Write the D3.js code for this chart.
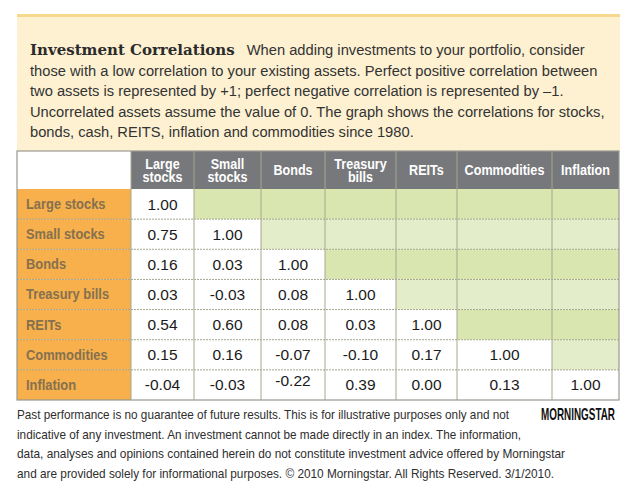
<!DOCTYPE html>
<html>
<head>
<meta charset="utf-8">
<script src="https://cdn.jsdelivr.net/npm/d3@7"></script>
<style>
  body { margin: 0; background: #fff; }
  svg { display: block; }
</style>
</head>
<body>
<div id="chart"></div>
<script>
// Investment correlations table (Morningstar, 2010)

const assets = ["Large stocks", "Small stocks", "Bonds", "Treasury bills", "REITs", "Commodities", "Inflation"];
const headerLabels = [["Large", "stocks"], ["Small", "stocks"], ["Bonds"], ["Treasury", "bills"], ["REITs"], ["Commodities"], ["Inflation"]];
// lower triangle, row by row
const correlations = [
    [1.00],
    [0.75, 1.00],
    [0.16, 0.03, 1.00],
    [0.03, -0.03, 0.08, 1.00],
    [0.54, 0.60, 0.08, 0.03, 1.00],
    [0.15, 0.16, -0.07, -0.10, 0.17, 1.00],
    [-0.04, -0.03, -0.22, 0.39, 0.00, 0.13, 1.00]
];
const introLines = [
    "When adding investments to your portfolio, consider",
    "those with a low correlation to your existing assets. Perfect positive correlation between",
    "two assets is represented by +1; perfect negative correlation is represented by \u20131.",
    "Uncorrelated assets assume the value of 0. The graph shows the correlations for stocks,",
    "bonds, cash, REITS, inflation and commodities since 1980."
];
const footLines = [
    "Past performance is no guarantee of future results. This is for illustrative purposes only and not",
    "indicative of any investment. An investment cannot be made directly in an index. The information,",
    "data, analyses and opinions contained herein do not constitute investment advice offered by Morningstar",
    "and are provided solely for informational purposes. \u00a9 2010 Morningstar. All Rights Reserved. 3/1/2010."
];
// rendered widths of the footer lines (layout only)
const footWidths = [492, 504, 548, 537];

const width = 630, height = 491;
const sans = "'Liberation Sans', Arial, sans-serif";

const svg = d3.select("#chart").append("svg")
    .attr("width", width)
    .attr("height", height);

// condensed bold label: squeeze Liberation Sans horizontally
function narrowText(sel, size, squeeze) {
    sel.style("font-family", sans)
        .style("font-weight", "bold")
        .style("font-size", size + "px")
        .attr("transform", function() {
            const x = +d3.select(this).attr("x");
            return `translate(${x * (1 - squeeze)},0) scale(${squeeze},1)`;
        });
}

// cream panel with the intro text
svg.append("rect").attr("x", 17).attr("y", 14).attr("width", 603).attr("height", 138).attr("fill", "#fdf1d2");
svg.append("rect").attr("x", 17).attr("y", 14).attr("width", 603).attr("height", 3).attr("fill", "#f6d98c");

const intro = svg.append("g").attr("transform", "translate(30,0)");
const title = intro.append("text")
    .attr("y", 55)
    .style("font-family", "'DejaVu Serif', serif")
    .style("font-weight", "bold")
    .style("font-size", "15px")
    .attr("fill", "#2b2b2b")
    .text("Investment Correlations");
const titleW = title.node().getComputedTextLength();
intro.selectAll("text.line")
    .data(introLines)
    .enter()
    .append("text")
    .attr("class", "line")
    .attr("x", (d, i) => i === 0 ? titleW + 12 : 0)
    .attr("y", (d, i) => 55 + i * 20.6)
    .style("font-family", sans)
    .style("font-size", "14.7px")
    .attr("fill", "#333")
    .text(d => d);

// table geometry
const colWidths = [114, 63, 67, 64, 71, 61, 95, 67];
const tableX = 17, headTop = 151, headBottom = 189, tableBottom = 400;
const colX = [tableX];
colWidths.forEach(w => colX.push(colX[colX.length - 1] + w));
const tableRight = colX[colX.length - 1];

const y = d3.scaleBand()
    .domain(assets)
    .range([headBottom, tableBottom]);

const table = svg.append("g");

// header row
table.append("rect")
    .attr("x", tableX).attr("y", headTop)
    .attr("width", colWidths[0]).attr("height", headBottom - headTop)
    .attr("fill", "#fff");

const head = table.selectAll("g.head")
    .data(assets)
    .enter()
    .append("g")
    .attr("class", "head");
head.append("rect")
    .attr("x", (d, i) => colX[i + 1])
    .attr("y", headTop)
    .attr("width", (d, i) => colWidths[i + 1])
    .attr("height", headBottom - headTop)
    .attr("fill", "#77787b");
head.each(function(d, i) {
    const lines = headerLabels[i];
    const cx = colX[i + 1] + colWidths[i + 1] / 2;
    const cy = (headTop + headBottom) / 2;
    const start = cy - (lines.length - 1) * 6.5 + 5.5;
    d3.select(this).selectAll("text")
        .data(lines)
        .enter()
        .append("text")
        .attr("x", cx)
        .attr("y", (t, k) => start + k * 13)
        .attr("text-anchor", "middle")
        .attr("fill", "#fff")
        .text(t => t)
        .call(narrowText, 15, 0.84);
});

// body rows
const rows = table.selectAll("g.row")
    .data(assets)
    .enter()
    .append("g")
    .attr("class", "row");

rows.append("rect")
    .attr("x", tableX)
    .attr("y", d => y(d))
    .attr("width", colWidths[0])
    .attr("height", y.bandwidth())
    .attr("fill", "#f7b04c");
rows.append("text")
    .attr("x", tableX + 9)
    .attr("y", d => y(d) + y.bandwidth() / 2 + 5)
    .attr("fill", "#86704f")
    .text(d => d)
    .call(narrowText, 15, 0.86);

rows.each(function(rowName, r) {
    const g = d3.select(this);
    assets.forEach((colName, c) => {
        const lower = c <= r;
        g.append("rect")
            .attr("x", colX[c + 1])
            .attr("y", y(rowName))
            .attr("width", colWidths[c + 1])
            .attr("height", y.bandwidth())
            .attr("fill", lower ? "#fff" : (r % 2 === 0 ? "#d9e6b0" : "#e4edc9"));
        if (lower) {
            const v = correlations[r][c];
            g.append("text")
                .attr("x", colX[c + 1] + colWidths[c + 1] / 2)
                .attr("y", y(rowName) + y.bandwidth() / 2 + 5.5 - (rowName === "Inflation" && colName === "Bonds" ? 4 : 0))
                .attr("text-anchor", "middle")
                .style("font-family", sans)
                .style("font-size", "15.5px")
                .attr("fill", "#1a1a1a")
                .text(d3.format(".2f")(v).replace("\u2212", "-"));
        }
    });
});

// grid lines
const grid = table.append("g")
    .attr("stroke", "#a6a68f")
    .attr("stroke-width", 1);
grid.selectAll("line.h")
    .data(assets.slice(1))
    .enter()
    .append("line")
    .attr("x1", tableX).attr("x2", tableRight)
    .attr("y1", d => y(d)).attr("y2", d => y(d))
    .attr("stroke-dasharray", "2,1");
grid.selectAll("line.v")
    .data(colX.slice(1, -1))
    .enter()
    .append("line")
    .attr("x1", d => d).attr("x2", d => d)
    .attr("y1", headTop).attr("y2", tableBottom);
table.append("rect")
    .attr("x", tableX).attr("y", headTop)
    .attr("width", tableRight - tableX).attr("height", tableBottom - headTop)
    .attr("fill", "none")
    .attr("stroke", "#9a9a90")
    .attr("stroke-width", 1.2);

// footer
svg.append("g")
    .selectAll("text")
    .data(footLines)
    .enter()
    .append("text")
    .attr("x", 17)
    .attr("y", (d, i) => 419 + i * 19.7)
    .attr("textLength", (d, i) => footWidths[i])
    .attr("lengthAdjust", "spacingAndGlyphs")
    .style("font-family", sans)
    .style("font-size", "12.7px")
    .attr("fill", "#2e2e2e")
    .text(d => d);

svg.append("text")
    .attr("x", 615)
    .attr("y", 420)
    .attr("text-anchor", "end")
    .attr("fill", "#111")
    .text("MORNINGSTAR")
    .call(narrowText, 16.5, 0.6);
</script>
</body>
</html>
